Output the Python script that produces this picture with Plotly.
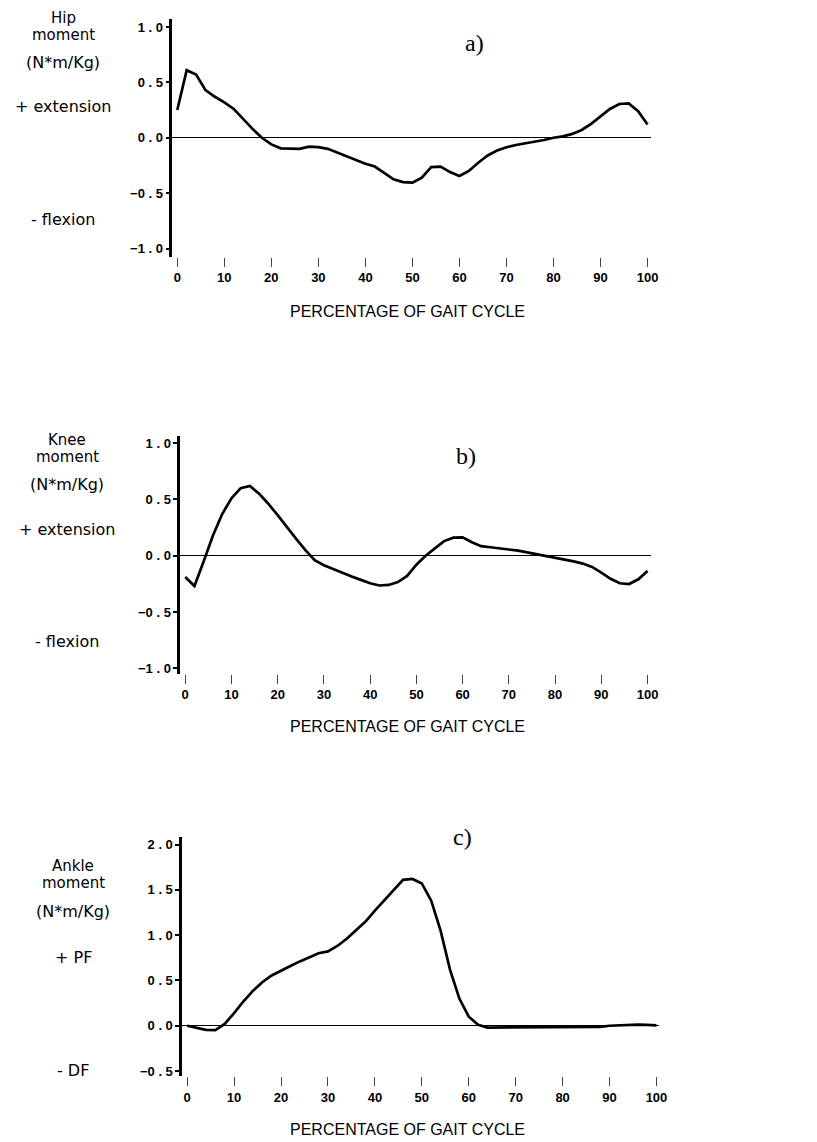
import plotly.graph_objects as go

W, H = 817, 1142

# ---------------- data ----------------
gait_pct = list(range(0, 101, 2))

hip_moment = [0.25, 0.61, 0.57, 0.43, 0.37, 0.32, 0.26, 0.17, 0.08, 0.0,
              -0.06, -0.095, -0.10, -0.10, -0.08, -0.085, -0.10, -0.135, -0.165, -0.20,
              -0.235, -0.26, -0.32, -0.375, -0.40, -0.405, -0.36, -0.265, -0.26, -0.31,
              -0.345, -0.30, -0.225, -0.16, -0.115, -0.085, -0.065, -0.05, -0.04, -0.02,
              0.0, 0.012, 0.035, 0.07, 0.125, 0.19, 0.26, 0.305, 0.31, 0.24, 0.12]

knee_moment = [-0.19, -0.27, -0.05, 0.18, 0.37, 0.51, 0.60, 0.62, 0.55, 0.46,
               0.36, 0.25, 0.15, 0.05, -0.04, -0.085, -0.12, -0.15, -0.185, -0.215,
               -0.245, -0.265, -0.26, -0.235, -0.18, -0.08, 0.0, 0.065, 0.13, 0.16,
               0.163, 0.12, 0.085, 0.075, 0.068, 0.055, 0.045, 0.03, 0.015, -0.005,
               -0.018, -0.03, -0.05, -0.07, -0.10, -0.15, -0.205, -0.245, -0.252, -0.21, -0.135]

ankle_moment = [0.0, -0.025, -0.045, -0.048, 0.02, 0.14, 0.27, 0.385, 0.48, 0.555,
                0.61, 0.66, 0.71, 0.755, 0.80, 0.82, 0.88, 0.96, 1.05, 1.15,
                1.27, 1.38, 1.50, 1.61, 1.62, 1.57, 1.38, 1.05, 0.62, 0.30,
                0.10, 0.01, -0.02, -0.02, -0.015, -0.015, -0.015, -0.015, -0.015, -0.015,
                -0.015, -0.015, -0.015, -0.015, -0.012, 0.0, 0.005, 0.01, 0.012, 0.01, 0.005]

x_ticks = [0, 10, 20, 30, 40, 50, 60, 70, 80, 90, 100]
x_tick_labels = ["0", "10", "20", "30", "40", "50", "60", "70", "80", "90", "100"]

hip_knee_y_ticks = [1.0, 0.5, 0.0, -0.5, -1.0]
hip_knee_y_labels = ["1.0", "0.5", "0.0", "-0.5", "-1.0"]
ankle_y_ticks = [2.0, 1.5, 1.0, 0.5, 0.0, -0.5]
ankle_y_labels = ["2.0", "1.5", "1.0", "0.5", "0.0", "-0.5"]

panel_letters = ["a)", "b)", "c)"]
joint_names = ["Hip", "Knee", "Ankle"]
positive_labels = ["+ extension", "+ extension", "+ PF"]
negative_labels = ["- flexion", "- flexion", "- DF"]
x_title = "PERCENTAGE OF GAIT CYCLE"


def spaced(lbl):
    return lbl.replace("-", "\u2212").replace(".", " . ")


# ---------------- layout geometry (pixels) ----------------
panels = [
    dict(l=174, r=657, t=19, b=257, xr=[-1.06, 100.64], yr=[-1.072, 1.072],
         yt=hip_knee_y_ticks, yl=hip_knee_y_labels, y=hip_moment,
         lab_x=64, lab_y=[18, 35, 63, 107, 220], letter=(479, 43), title_y=312),
    dict(l=182, r=657, t=437, b=675, xr=[-1.08, 100.65], yr=[-1.05, 1.062],
         yt=hip_knee_y_ticks, yl=hip_knee_y_labels, y=knee_moment,
         lab_x=68, lab_y=[441, 458, 485, 530, 643], letter=(471, 457), title_y=728),
    dict(l=184, r=666, t=838, b=1078, xr=[-1.06, 100.64], yr=[-0.556, 2.088],
         yt=ankle_y_ticks, yl=ankle_y_labels, y=ankle_moment,
         lab_x=74, lab_y=[868, 885, 913, 959, 1072], letter=(467, 838), title_y=1131),
]

fig = go.Figure()
annotations = []
sans = "DejaVu Sans"

for i, p in enumerate(panels):
    n = "" if i == 0 else str(i + 1)
    xa, ya = "xaxis" + n, "yaxis" + n
    fig.add_trace(go.Scatter(x=gait_pct, y=p["y"], mode="lines",
                             line=dict(color="black", width=2.7),
                             xaxis="x" + n, yaxis="y" + n, showlegend=False,
                             hoverinfo="skip"))
    fig.update_layout(**{
        xa: dict(domain=[p["l"] / W, p["r"] / W], range=p["xr"], anchor="y" + n,
                 showgrid=False, zeroline=False, showline=False,
                 ticks="outside", ticklen=9, tickwidth=1, tickcolor="#444",
                 tickvals=x_ticks, ticktext=x_tick_labels,
                 tickfont=dict(family="Liberation Sans", size=13, color="black",
                               weight="bold")),
        ya: dict(domain=[1 - p["b"] / H, 1 - p["t"] / H], range=p["yr"], anchor="x" + n,
                 showgrid=False, zeroline=True, zerolinecolor="black", zerolinewidth=1,
                 showline=True, linecolor="black", linewidth=2.5,
                 ticks="outside", ticklen=4, tickwidth=2, tickcolor="black",
                 tickvals=p["yt"], ticktext=[spaced(t) for t in p["yl"]],
                 tickfont=dict(family="Liberation Sans", size=13, color="black",
                               weight="bold")),
    })
    texts = [joint_names[i], "moment", "(N*m/Kg)", positive_labels[i], negative_labels[i]]
    sizes = [15, 15, 16, 16, 16]
    for t, yy, fs in zip(texts, p["lab_y"], sizes):
        annotations.append(dict(text=t, x=p["lab_x"] / W, y=1 - yy / H, xref="paper",
                                yref="paper", xanchor="center", yanchor="middle",
                                showarrow=False,
                                font=dict(family=sans, size=fs, color="black")))
    lx, ly = p["letter"]
    annotations.append(dict(text=panel_letters[i], x=lx / W, y=1 - ly / H, xref="paper",
                            yref="paper", xanchor="center", yanchor="middle",
                            showarrow=False,
                            font=dict(family="Liberation Serif", size=24, color="black")))
    annotations.append(dict(text=x_title, x=412 / W, y=1 - p["title_y"] / H, xref="paper",
                            yref="paper", xanchor="center", yanchor="middle",
                            showarrow=False,
                            font=dict(family="Liberation Sans", size=16, color="black")))

fig.update_layout(width=W, height=H, margin=dict(l=0, r=0, t=0, b=0),
                  paper_bgcolor="white", plot_bgcolor="white",
                  annotations=annotations, showlegend=False)

fig.write_html("out.html")
